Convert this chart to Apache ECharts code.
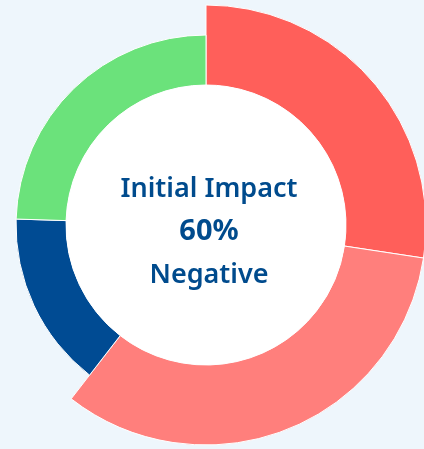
<!DOCTYPE html>
<html>
<head>
<meta charset="utf-8">
<script src="https://cdn.jsdelivr.net/npm/echarts@6/dist/echarts.min.js"></script>
<style>
  html, body { margin: 0; padding: 0; background: #eef6fc; }
  #chart { width: 424px; height: 449px; }
</style>
</head>
<body>
<div id="chart"></div>
<script>
// slices, clockwise from 12 o'clock
const categories = ['Strong negative', 'Negative', 'Neutral', 'Positive']
const values = [27.4, 33.1, 15, 24.5]
const colors = ['#ff5f5a', '#ff7f7c', '#004b93', '#6be27b']
// slices drawn with the larger outer radius
const bigSlices = ['Strong negative', 'Negative']

const centerLines = ['Initial Impact', '60%', 'Negative']

const chart = echarts.init(document.getElementById('chart'))

// one pie per ring size, the other ring's slices left transparent
const makeData = (big) => categories.map((name, i) => {
  const show = bigSlices.includes(name) === big
  return {
    name,
    value: values[i],
    itemStyle: {
      color: show ? colors[i] : 'rgba(0,0,0,0)',
      borderColor: show ? '#ffffff' : 'rgba(0,0,0,0)',
      borderWidth: show ? 1 : 0
    }
  }
})

const option = {
  backgroundColor: '#eef6fc',
  graphic: [
    {
      type: 'text',
      x: 209,
      y: 232,
      z: 10,
      style: {
        text: '{a|' + centerLines[0] + '}\n{b|' + centerLines[1] + '}\n{a|' + centerLines[2] + '}',
        align: 'center',
        verticalAlign: 'middle',
        rich: {
          a: { fontFamily: 'Noto Sans', fontSize: 27, fill: '#004b8d', lineHeight: 43, fontWeight: 600, align: 'center' },
          b: { fontFamily: 'Noto Sans', fontSize: 29, fill: '#004b8d', lineHeight: 43, fontWeight: 'bold', align: 'center' }
        }
      }
    }
  ],
  series: [
    {
      type: 'pie',
      center: [206, 225],
      radius: [140, 220],
      startAngle: 90,
      silent: true,
      label: { show: false },
      labelLine: { show: false },
      data: makeData(true)
    },
    {
      type: 'pie',
      center: [206, 225],
      radius: [140, 190],
      startAngle: 90,
      silent: true,
      label: { show: false },
      labelLine: { show: false },
      data: makeData(false)
    },
    {
      type: 'pie',
      center: [206, 225],
      radius: [0, 140],
      silent: true,
      label: { show: false },
      data: [{ value: 1, itemStyle: { color: '#ffffff' } }]
    }
  ]
}

chart.setOption(option)
</script>
</body>
</html>
